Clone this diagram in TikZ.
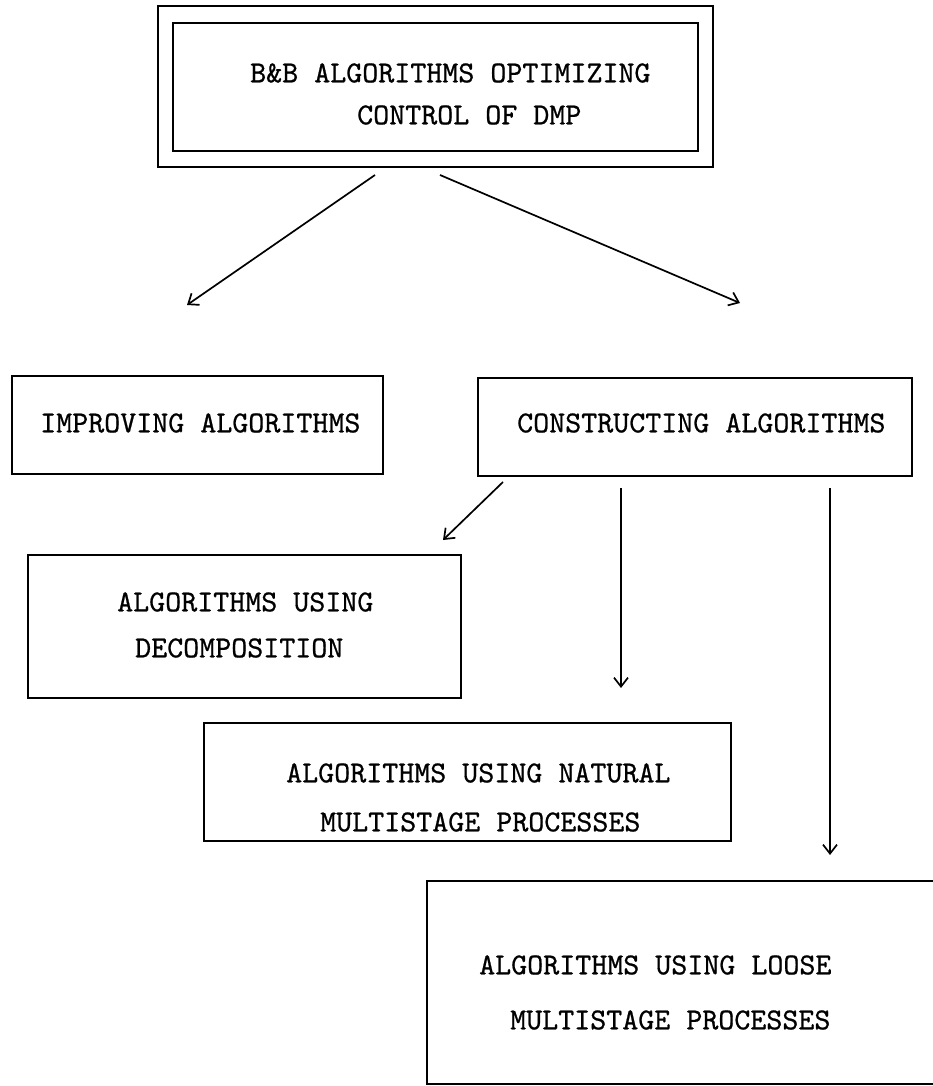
\documentclass[tikz,border=0pt]{standalone}
\usepackage{fontspec}
\newfontfamily\boxfont[Extension=.otf, FakeBold=0.7]{lmmono10-regular}
\usetikzlibrary{arrows.meta}
\begin{document}
\begin{tikzpicture}[x=1pt,y=-1pt,
  box/.style={draw=black, line width=2.2pt, rectangle, inner sep=0pt, anchor=north west},
  label/.style={anchor=west, inner sep=0pt, font=\boxfont\fontsize{30.5}{36}\selectfont},
  link/.style={draw=black, line width=1.7pt, -{Straight Barb[length=9pt,width=14pt,line width=1.7pt]}}]
  % page area
  \fill[white] (0,0) rectangle (932,1086);
  \useasboundingbox (0,0) rectangle (932,1086);

  % root: double-framed box
  \node[box, minimum width=555pt, minimum height=161pt] (rootout) at (157,5) {};
  \node[box, minimum width=525pt, minimum height=128pt] (rootin) at (172,22) {};
  \node[label] (roota) at (250,73) {B\&B ALGORITHMS OPTIMIZING};
  \node[label] (rootb) at (357,115) {CONTROL OF DMP};

  % second level
  \node[box, minimum width=371pt, minimum height=98pt] (impr) at (11,375) {};
  \node[label] (imprt) at (40,423) {IMPROVING ALGORITHMS};
  \node[box, minimum width=434pt, minimum height=98pt] (cons) at (477,377) {};
  \node[label] (const) at (517,423) {CONSTRUCTING ALGORITHMS};

  % constructing algorithms: three kinds
  \node[box, minimum width=433pt, minimum height=143pt] (deco) at (27,554) {};
  \node[label] (decoa) at (117,602) {ALGORITHMS USING};
  \node[label] (decob) at (135,648) {DECOMPOSITION};

  \node[box, minimum width=527pt, minimum height=118pt] (natu) at (203,722) {};
  \node[label] (natua) at (286,773) {ALGORITHMS USING NATURAL};
  \node[label] (natub) at (320,822) {MULTISTAGE PROCESSES};

  \node[box, minimum width=509pt, minimum height=203pt] (loos) at (426,880) {};
  \node[label] (loosa) at (479,965) {ALGORITHMS USING LOOSE};
  \node[label] (loosb) at (510,1020) {MULTISTAGE PROCESSES};

  % connector ends
  \coordinate (r1) at (375,175);   \coordinate (i1) at (187,305);
  \coordinate (r2) at (440,175);   \coordinate (c1) at (740,303);
  \coordinate (c2) at (503,482);   \coordinate (d1) at (443,540);
  \coordinate (c3) at (621,488);   \coordinate (n1) at (621,688);
  \coordinate (c4) at (830,488);   \coordinate (l1) at (830,855);

  \draw[link] (r1) -- (i1);
  \draw[link] (r2) -- (c1);
  \draw[link] (c2) -- (d1);
  \draw[link] (c3) -- (n1);
  \draw[link] (c4) -- (l1);
\end{tikzpicture}
\end{document}
